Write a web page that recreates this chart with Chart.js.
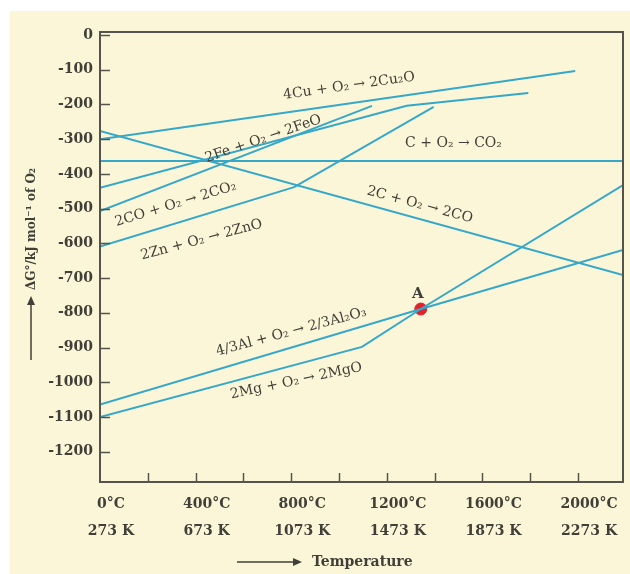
<!DOCTYPE html>
<html>
<head>
<meta charset="utf-8">
<script src="https://cdn.jsdelivr.net/npm/chart.js@4.4.1/dist/chart.umd.min.js"></script>
<style>
  html, body { margin: 0; padding: 0; background: #fff; }
  #wrap { width: 630px; height: 574px; }
</style>
</head>
<body>
<div id="wrap"><canvas id="chart" width="630" height="574"></canvas></div>
<script>
// temperature in °C, ΔG in kJ per mol of O2
const cuT = [0, 1988]
const cuG = [-300, -104]
const feT = [0, 1283, 1792]
const feG = [-440, -204, -167]
const cT = [0, 2188]
const cG = [-363, -363]
const c2T = [0, 2188]
const c2G = [-276, -691]
const coT = [0, 1138]
const coG = [-507, -204]
const znT = [0, 812, 1396]
const znG = [-609, -438, -207]
const alT = [0, 1342, 2188]
const alG = [-1064, -789, -619]
const mgT = [0, 1096, 1342, 2188]
const mgG = [-1100, -898, -789, -432]
const pointA = [1342, -789]

const reactions = [
    "4Cu + O₂ → 2Cu₂O", "2Fe + O₂ → 2FeO", "C + O₂ → CO₂", "2C + O₂ → 2CO",
    "2CO + O₂ → 2CO₂", "2Zn + O₂ → 2ZnO", "4/3Al + O₂ → 2/3Al₂O₃", "2Mg + O₂ → 2MgO"
]

const yTicks = [0, -100, -200, -300, -400, -500, -600, -700, -800, -900, -1000, -1100, -1200]
const xTicks = [0, 200, 400, 600, 800, 1000, 1200, 1400, 1600, 1800, 2000]
const labelTemps = [0, 400, 800, 1200, 1600, 2000]
const celsiusText = ["0°C", "400°C", "800°C", "1200°C", "1600°C", "2000°C"]
const kelvinText = ["273 K", "673 K", "1073 K", "1473 K", "1873 K", "2273 K"]

const LINE = "#35a8ca"
const INK = "#403f38"
const SERIF = "'DejaVu Serif', 'Liberation Serif', serif"

const pts = (ts, gs) => ts.map((t, i) => ({ x: t, y: gs[i] }))
const series = [[cuT, cuG], [feT, feG], [cT, cG], [c2T, c2G], [coT, coG], [znT, znG], [alT, alG], [mgT, mgG]]

// where each reaction name sits (data coords) and its slant
const notePlaces = [
    { t: 1042, g: -147, rot: -8 },
    { t: 683, g: -299, rot: -19 },
    { t: 1479, g: -311, rot: 0 },
    { t: 1338, g: -489, rot: 15 },
    { t: 317, g: -487, rot: -17 },
    { t: 425, g: -590, rot: -15 },
    { t: 800, g: -855, rot: -15 },
    { t: 821, g: -996, rot: -12 },
]

const paper = {
    id: "paper",
    beforeDraw(chart) {
        const ctx = chart.ctx
        ctx.save()
        ctx.fillStyle = "#ffffff"
        ctx.fillRect(0, 0, chart.width, chart.height)
        ctx.fillStyle = "#fcf6d8"
        ctx.fillRect(10, 11, chart.width - 10, chart.height - 11)
        ctx.restore()
    }
}

const decor = {
    id: "decor",
    afterDatasetsDraw(chart) {
        const { ctx, chartArea: a, scales: { x, y } } = chart
        ctx.save()
        // reaction names
        ctx.fillStyle = INK
        ctx.textAlign = "center"
        ctx.textBaseline = "middle"
        ctx.font = "14px " + SERIF
        notePlaces.forEach((p, i) => {
            ctx.save()
            ctx.translate(x.getPixelForValue(p.t), y.getPixelForValue(p.g))
            ctx.rotate(p.rot * Math.PI / 180)
            ctx.fillText(reactions[i], 0, 0)
            ctx.restore()
        })
        ctx.font = "bold 15px " + SERIF
        ctx.fillText("A", x.getPixelForValue(pointA[0]) - 3, y.getPixelForValue(pointA[1]) - 15)

        // frame + inward ticks
        ctx.strokeStyle = "#55544c"
        ctx.lineWidth = 2
        ctx.strokeRect(a.left, a.top, a.right - a.left, a.bottom - a.top)
        ctx.lineWidth = 1.5
        ctx.beginPath()
        yTicks.forEach(v => {
            const py = Math.round(y.getPixelForValue(v)) + 0.5
            ctx.moveTo(a.left, py)
            ctx.lineTo(a.left + 10, py)
        })
        xTicks.slice(1).forEach(v => {
            const px = Math.round(x.getPixelForValue(v)) + 0.5
            ctx.moveTo(px, a.bottom)
            ctx.lineTo(px, a.bottom - 9)
        })
        ctx.stroke()

        // axis titles with arrows
        ctx.fillStyle = INK
        ctx.strokeStyle = INK
        ctx.lineWidth = 1.5
        ctx.save()
        ctx.translate(32, 229)
        ctx.rotate(-Math.PI / 2)
        ctx.font = "bold 12px " + SERIF
        ctx.fillText("ΔG°/kJ mol⁻¹ of O₂", 0, 0)
        ctx.restore()
        ctx.beginPath()
        ctx.moveTo(31, 360)
        ctx.lineTo(31, 302)
        ctx.moveTo(237, 562)
        ctx.lineTo(296, 562)
        ctx.stroke()
        ctx.beginPath()
        ctx.moveTo(31, 296); ctx.lineTo(27, 305); ctx.lineTo(35, 305); ctx.closePath()
        ctx.moveTo(302, 562); ctx.lineTo(293, 558); ctx.lineTo(293, 566); ctx.closePath()
        ctx.fill()
        ctx.textAlign = "left"
        ctx.font = "bold 14px " + SERIF
        ctx.fillText("Temperature", 312, 562)
        ctx.restore()
    }
}

const datasets = series.map((s, i) => ({
    label: reactions[i],
    data: pts(s[0], s[1]),
    showLine: true,
    borderColor: LINE,
    borderWidth: 2,
    pointRadius: 0,
    tension: 0,
}))
datasets.push({
    label: "A",
    data: [{ x: pointA[0], y: pointA[1] }],
    pointRadius: 6,
    pointBackgroundColor: "#e3232b",
    pointBorderColor: "#e3232b",
})

new Chart(document.getElementById("chart"), {
    type: "scatter",
    data: { datasets },
    options: {
        responsive: false,
        devicePixelRatio: 1,
        animation: false,
        layout: { padding: { left: 10, right: 5, top: 32, bottom: 0 } },
        plugins: { legend: { display: false }, tooltip: { enabled: false } },
        scales: {
            x: {
                type: "linear",
                min: 0,
                max: 2188,
                afterFit: s => { s.height = 92 },
                afterBuildTicks: s => { s.ticks = xTicks.map(v => ({ value: v })) },
                border: { color: "#55544c", width: 2 },
                grid: { drawOnChartArea: false, drawTicks: false },
                ticks: {
                    autoSkip: false,
                    maxRotation: 0,
                    padding: 9,
                    labelOffset: 11,
                    color: INK,
                    font: { family: SERIF, size: 14, weight: "bold", lineHeight: 1.93 },
                    callback: v => {
                        const i = labelTemps.indexOf(v)
                        return i < 0 ? "" : [celsiusText[i], kelvinText[i]]
                    }
                }
            },
            y: {
                type: "linear",
                min: -1287,
                max: 8.6,
                afterFit: s => { s.width = 90 },
                afterBuildTicks: s => { s.ticks = yTicks.map(v => ({ value: v })) },
                border: { color: "#55544c", width: 2 },
                grid: { drawOnChartArea: false, drawTicks: false },
                ticks: {
                    padding: 7,
                    color: INK,
                    font: { family: SERIF, size: 14, weight: "bold" },
                    callback: v => String(v)
                }
            }
        }
    },
    plugins: [paper, decor]
})
</script>
</body>
</html>
